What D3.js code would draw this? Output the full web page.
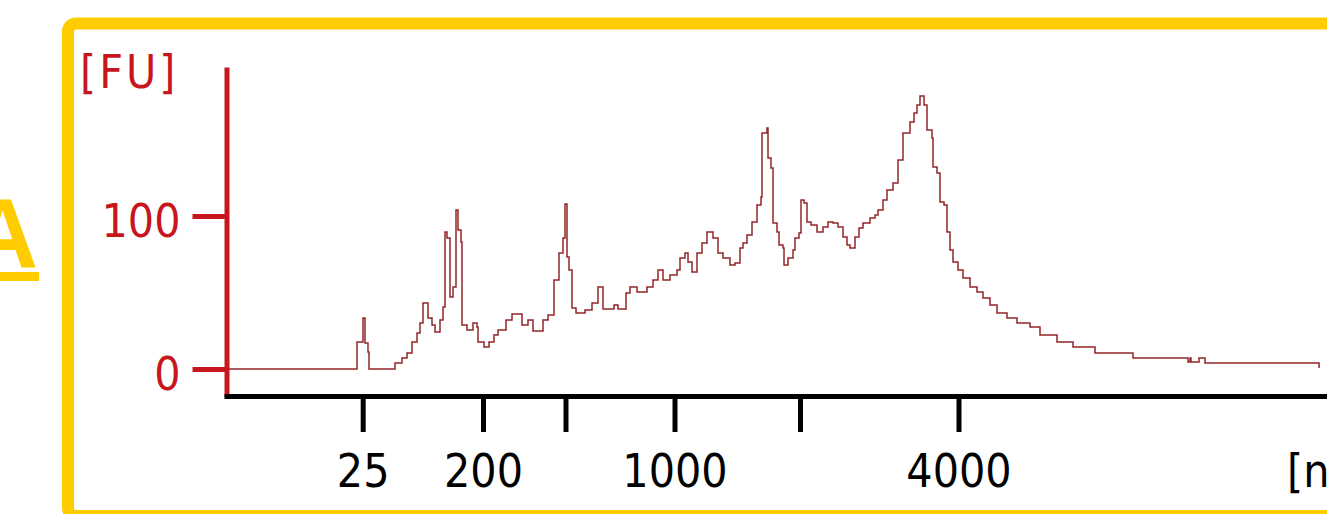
<!DOCTYPE html>
<html><head><meta charset="utf-8">
<script src="https://cdn.jsdelivr.net/npm/d3@7"></script>
<style>html,body{margin:0;padding:0;background:#fff;overflow:hidden}</style>
</head><body><svg id="c" width="1327" height="514"></svg>
<script>
// migration time (s) and fluorescence (FU)
const migrationTime = [
  20.0, 33.1, 33.7, 33.9, 34.2, 34.3, 36.9, 37.6, 38.1, 38.6,
  39.1, 39.4, 39.7, 40.2, 40.6, 40.9, 41.4, 41.7, 41.9, 42.1,
  42.4, 42.7, 43.0, 43.2, 43.5, 43.6, 44.1, 44.7, 45.1, 45.2,
  45.8, 46.3, 46.8, 47.2, 48.0, 48.6, 49.6, 50.2, 50.7, 51.7,
  52.2, 52.8, 53.3, 53.7, 53.9, 54.1, 54.3, 54.6, 55.0, 55.9,
  56.6, 57.2, 57.7, 58.8, 59.2, 60.0, 60.4, 61.1, 62.1, 62.7,
  63.2, 63.7, 64.4, 65.1, 65.4, 65.9, 66.2, 66.6, 67.1, 67.6,
  68.1, 68.7, 69.2, 69.7, 70.4, 70.9, 71.4, 71.7, 72.1, 72.6,
  73.1, 73.5, 73.6, 74.1, 74.2, 74.5, 74.7, 75.1, 75.3, 75.7,
  75.8, 76.2, 76.7, 76.9, 77.3, 77.5, 77.8, 78.1, 78.5, 79.1,
  79.7, 80.2, 80.7, 81.2, 81.7, 82.1, 82.4, 82.9, 83.3, 83.7,
  84.4, 84.9, 85.2, 85.7, 86.1, 86.7, 87.2, 87.7, 88.4, 88.8,
  89.1, 89.4, 89.8, 90.1, 90.6, 90.7, 91.1, 91.4, 91.8, 92.1,
  92.4, 92.7, 93.2, 93.7, 94.4, 95.1, 95.7, 96.4, 97.1, 98.1,
  99.1, 100.4, 101.4, 103.1, 104.7, 106.9, 110.7, 116.2, 116.4, 116.5,
  117.3, 117.9, 129.3, 129.4
];
const fluorescence = [
  0, 17.6, 33.3, 17.0, 11.1, 0, 3.9, 7.2, 10.5, 17.6,
  23.5, 30.1, 43.1, 33.3, 28.8, 24.2, 32.0, 40.5, 89.5, 85.6,
  47.1, 53.6, 103.9, 90.8, 83.0, 28.8, 25.5, 30.1, 27.5, 17.6,
  14.4, 17.6, 22.2, 25.5, 32.0, 35.9, 28.8, 32.0, 24.8, 32.0,
  35.3, 58.2, 75.8, 85.6, 107.8, 73.2, 64.7, 39.9, 36.6, 38.6,
  43.1, 53.6, 39.2, 41.8, 39.2, 49.7, 53.6, 50.3, 53.6, 58.2,
  64.7, 58.2, 61.4, 64.7, 72.5, 75.8, 69.9, 63.4, 75.8, 82.4,
  89.5, 85.6, 75.8, 72.5, 68.0, 69.3, 79.1, 82.4, 87.6, 96.1,
  107.2, 112.4, 154.2, 157.5, 137.9, 131.4, 95.4, 89.5, 81.0, 79.1,
  68.0, 72.5, 77.8, 85.6, 88.9, 110.5, 108.5, 96.1, 94.1, 89.5,
  92.8, 96.1, 95.4, 92.8, 86.3, 81.0, 79.1, 86.3, 92.2, 95.4,
  98.7, 100.7, 104.0, 110.5, 117.0, 121.6, 136.6, 154.2, 161.4, 167.3,
  172.5, 178.4, 172.5, 156.2, 151.0, 132.0, 128.1, 109.2, 107.2, 89.5,
  77.8, 69.9, 64.7, 59.5, 53.6, 50.3, 46.4, 41.8, 36.6, 33.3,
  30.1, 27.5, 22.2, 17.6, 14.4, 10.5, 7.2, 4.6, 7.2, 4.6,
  7.2, 3.9, 1.3, 1.3
];
// size-standard positions on the time axis and their labels (nt)
const xTickTimes = [33.67, 45.7, 53.95, 64.85, 77.4, 93.25];
const xTickLabels = ["25", "200", "", "1000", "", "4000"];
const yTickValues = [0, 100];
const yTitle = "[FU]";
const xTitle = "[nt]";
const panelLetter = "A";

const svg = d3.select("#c");
const W = 1327, H = 514;
const yellow = "#FFCC00";
const red = "#C8161D";
const traceColor = "#932629";
const tickFont = "'DejaVu Sans Condensed','DejaVu Sans',sans-serif";

svg.append("rect").attr("width", W).attr("height", H).attr("fill", "#fff");

// frame
svg.append("rect")
  .attr("x", 68).attr("y", 23.5).attr("width", 1320).attr("height", 492.5)
  .attr("rx", 8).attr("fill", "none").attr("stroke", yellow).attr("stroke-width", 12);

// panel letter
svg.append("text").text(panelLetter)
  .attr("x", 38).attr("y", 267).attr("text-anchor", "end")
  .attr("font-family", "'Liberation Sans',Arial,sans-serif").attr("font-weight", "bold")
  .attr("font-size", 98).attr("fill", yellow);
svg.append("rect").attr("x", 0).attr("y", 272).attr("width", 39).attr("height", 9).attr("fill", yellow);

const x = d3.scaleLinear().domain([19.8, 130.1]).range([224, 1327]);
const y = d3.scaleLinear().domain([-18.3, 197.4]).range([397, 67]);

// trace
const data = migrationTime.map((t, i) => ({t, v: fluorescence[i]}));
svg.append("path").datum(data)
  .attr("fill", "none").attr("stroke", traceColor).attr("stroke-width", 1.5)
  .attr("d", d3.line().x(d => x(d.t)).y(d => y(d.v)).curve(d3.curveStepAfter));

// y axis
const yAxis = svg.append("g").attr("transform", "translate(226.5,0)")
  .call(d3.axisLeft(y).tickValues(yTickValues).tickSizeInner(34).tickSizeOuter(0).tickPadding(12).tickFormat(d3.format("d")));
yAxis.select(".domain").attr("stroke", red).attr("stroke-width", 5);
yAxis.selectAll(".tick line").attr("stroke", red).attr("stroke-width", 5);
yAxis.selectAll(".tick text").attr("fill", red).attr("font-family", tickFont)
  .attr("font-size", 46).attr("dy", 20);

svg.append("text").text(yTitle)
  .attr("x", 80).attr("y", 88).attr("fill", red)
  .attr("font-family", tickFont).attr("font-size", 46).attr("letter-spacing", 3);

// x axis
const xAxis = svg.append("g").attr("transform", "translate(0,396)")
  .call(d3.axisBottom(x).tickValues(xTickTimes).tickSizeInner(36).tickSizeOuter(0)
    .tickFormat((d, i) => xTickLabels[i]));
xAxis.select(".domain").attr("stroke", "#000").attr("stroke-width", 5);
xAxis.selectAll(".tick line").attr("stroke", "#000").attr("stroke-width", 5);
xAxis.selectAll(".tick text").attr("fill", "#000").attr("font-family", tickFont)
  .attr("font-size", 46).attr("y", 91).attr("dy", 0);

svg.append("text").text(xTitle)
  .attr("x", 1287).attr("y", 487).attr("fill", "#000")
  .attr("font-family", tickFont).attr("font-size", 46);
</script></body></html>
